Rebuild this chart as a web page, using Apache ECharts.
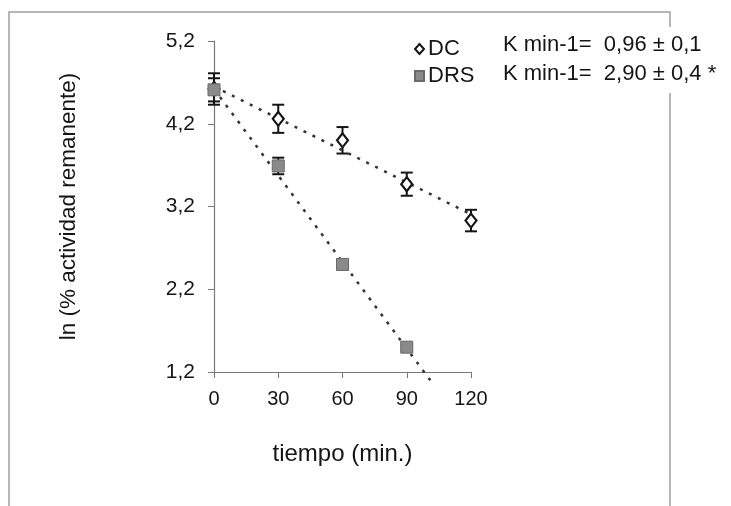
<!DOCTYPE html>
<html>
<head>
  <meta charset="utf-8">
  <title>ln actividad remanente</title>
  <style>
    html, body { margin: 0; padding: 0; background: #fff; }
    #main { width: 731px; height: 506px; }
  </style>
</head>
<body>
  <div id="main"></div>
  <script src="https://cdn.jsdelivr.net/npm/echarts@6/dist/echarts.min.js"></script>
  <script>
    // datos
    const xTicks = [0, 30, 60, 90, 120]
    const yTicks = [1.2, 2.2, 3.2, 4.2, 5.2]
    const dcTime = [0, 30, 60, 90, 120]
    const dcMean = [4.62, 4.26, 4.0, 3.47, 3.03]
    const dcErr = [0.19, 0.17, 0.16, 0.14, 0.13]
    const drsTime = [0, 30, 60, 90]
    const drsMean = [4.61, 3.69, 2.5, 1.5]
    const drsErr = [0.14, 0.1, 0.06, 0.04]
    const dcFit = [[0, 4.65], [122, 3.08]]
    const drsFit = [[0, 4.62], [101, 1.1]]
    const legendNames = ['DC', 'DRS']
    const kTexts = ['K min-1=  0,96 ± 0,1', 'K min-1=  2,90 ± 0,4 *']

    const font = 'Liberation Sans'
    const ink = '#151515'

    let pairs = (xs, ys) => xs.map((x, i) => [x, ys[i]])
    let bars = (xs, ys, es) => xs.map((x, i) => [x, ys[i] - es[i], ys[i] + es[i]])
    let comma = (v) => v.toFixed(1).replace('.', ',')

    let errorBar = (params, api) => {
      let x = api.value(0)
      let lo = api.coord([x, api.value(1)])
      let hi = api.coord([x, api.value(2)])
      let h = 6
      let style = { stroke: ink, lineWidth: 2 }
      return {
        type: 'group',
        children: [
          { type: 'line', shape: { x1: hi[0], y1: hi[1], x2: lo[0], y2: lo[1] }, style: style },
          { type: 'line', shape: { x1: hi[0] - h, y1: hi[1], x2: hi[0] + h, y2: hi[1] }, style: style },
          { type: 'line', shape: { x1: lo[0] - h, y1: lo[1], x2: lo[0] + h, y2: lo[1] }, style: style },
        ]
      }
    }

    const OPTION = {
      backgroundColor: '#fff',
      animation: false,
      grid: { left: 214, right: 260, top: 41, bottom: 134, containLabel: false },
      legend: {
        data: [
          { name: legendNames[0], icon: 'diamond', itemStyle: { color: '#fff', borderColor: ink, borderWidth: 2 } },
          { name: legendNames[1], icon: 'rect', itemStyle: { color: '#8a8a8a' } },
        ],
        orient: 'vertical',
        left: 409,
        top: 33,
        itemWidth: 9,
        itemHeight: 10,
        itemGap: 5,
        textStyle: { fontFamily: font, fontSize: 22, color: ink, padding: [0, 0, 0, -1] },
      },
      xAxis: {
        type: 'value',
        min: xTicks[0],
        max: xTicks[xTicks.length - 1],
        interval: 30,
        name: 'tiempo (min.)',
        nameLocation: 'middle',
        nameGap: 70,
        nameTextStyle: { fontFamily: font, fontSize: 24, color: ink },
        axisLine: { lineStyle: { color: '#777', width: 1.2 } },
        axisTick: { show: true, length: 6, lineStyle: { color: '#777' } },
        axisLabel: { fontFamily: font, fontSize: 20, color: ink, margin: 17 },
        splitLine: { show: false },
      },
      yAxis: {
        type: 'value',
        min: yTicks[0],
        max: yTicks[yTicks.length - 1],
        interval: 1,
        name: 'ln (% actividad remanente)',
        nameLocation: 'middle',
        nameGap: 134,
        nameTextStyle: { fontFamily: font, fontSize: 22.5, color: ink },
        axisLine: { show: true, lineStyle: { color: '#777', width: 1.2 } },
        axisTick: { show: true, length: 6, lineStyle: { color: '#777' } },
        axisLabel: { fontFamily: font, fontSize: 21, color: ink, margin: 19, formatter: comma },
        splitLine: { show: false },
      },
      graphic: [
        {
          type: 'rect', z: -1, silent: true,
          shape: { x: 9, y: 12, width: 661, height: 520 },
          style: { fill: 'none', stroke: '#a0a0a0', lineWidth: 1.5 },
        },
        {
          type: 'text', left: 503, top: 27, z: 10,
          style: {
            text: kTexts[0] + '\n' + kTexts[1],
            fontFamily: font, fontSize: 22, fill: ink, lineHeight: 29,
            backgroundColor: '#fff', padding: [3, 0, 5, 0],
          },
        },
      ],
      series: [
        {
          type: 'line', data: dcFit, showSymbol: false, silent: true, clip: false,
          lineStyle: { color: '#333', width: 2.5, type: [3, 7] },
        },
        {
          type: 'line', data: drsFit, showSymbol: false, silent: true, clip: false,
          lineStyle: { color: '#333', width: 2.5, type: [3, 7] },
        },
        { type: 'custom', renderItem: errorBar, data: bars(dcTime, dcMean, dcErr), z: 3 },
        { type: 'custom', renderItem: errorBar, data: bars(drsTime, drsMean, drsErr), z: 3 },
        {
          name: legendNames[0], type: 'scatter', data: pairs(dcTime, dcMean), z: 5,
          symbol: 'diamond', symbolSize: [11, 14],
          itemStyle: { color: '#fff', borderColor: ink, borderWidth: 2.2, opacity: 1 },
        },
        {
          name: legendNames[1], type: 'scatter', data: pairs(drsTime, drsMean), z: 6,
          symbol: 'rect', symbolSize: 12,
          itemStyle: { color: '#8a8a8a', borderColor: '#6a6a6a', borderWidth: 1, opacity: 1 },
        },
      ],
    }

    let drawChart = (option) => {
      let element = document.querySelector('#main')
      let myChart = echarts.init(element)
      myChart.setOption(option)
    }
    drawChart(OPTION)
  </script>
</body>
</html>
